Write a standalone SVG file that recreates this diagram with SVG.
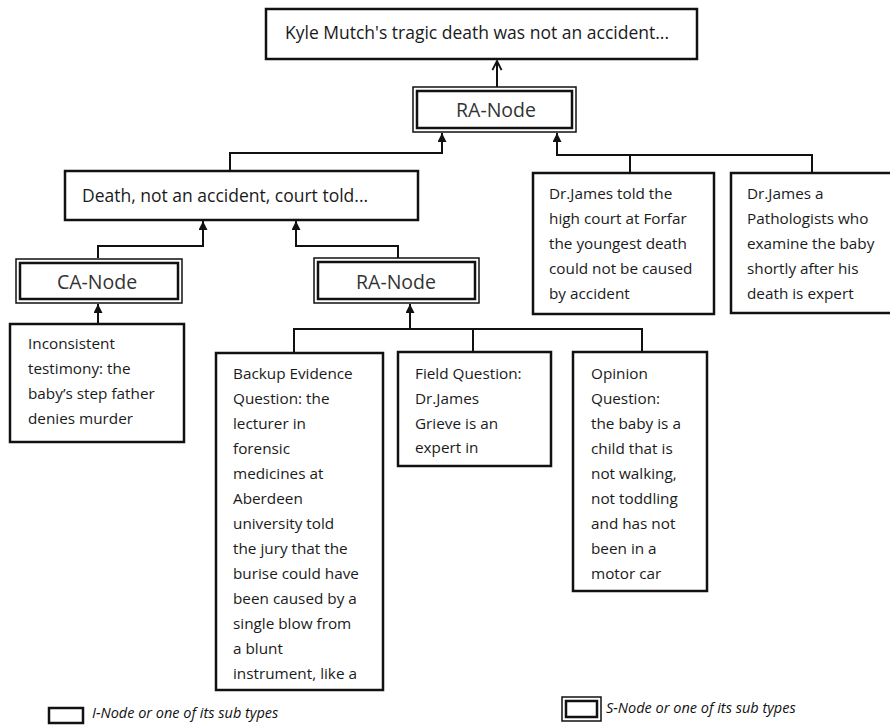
<svg xmlns="http://www.w3.org/2000/svg" width="890" height="726" viewBox="0 0 890 726">
<style>
.b{fill:#fff;stroke:#111;stroke-width:2.5}
.o{fill:#fff;stroke:#111;stroke-width:1.5}
.i{fill:none;stroke:#111;stroke-width:2.5}
.c{fill:none;stroke:#111;stroke-width:2}
text{font-family:"Open Sans","Liberation Sans",sans-serif;fill:#1a1a1a}
.t{font-size:15.3px}
.h{font-size:17.5px}
.n{font-size:19.5px;fill:#333;text-anchor:middle}
.l{font-size:14.5px;font-style:italic;fill:#111}
</style>
<defs>
<marker id="ar" viewBox="0 0 10 10" refX="10" refY="5" markerWidth="10" markerHeight="9" markerUnits="userSpaceOnUse" orient="auto"><path d="M0,0 L10,5 L0,10 z" fill="#111"/></marker>
<marker id="op" viewBox="0 0 12 12" refX="11" refY="6" markerWidth="11" markerHeight="12" markerUnits="userSpaceOnUse" orient="auto"><path d="M1,1 L11,6 L1,11" fill="none" stroke="#111" stroke-width="2"/></marker>
</defs>
<g id="connectors">
<path class="c" d="M497,87 V61" marker-end="url(#op)"/>
<path class="c" d="M230,171 V153 H442 V133" marker-end="url(#ar)"/>
<path class="c" d="M630,173 V155 H557 V133" marker-end="url(#ar)"/>
<path class="c" d="M812,173 V155 H630"/>
<path class="c" d="M98,258 V246 H203 V221" marker-end="url(#ar)"/>
<path class="c" d="M398,258 V246 H296 V221" marker-end="url(#ar)"/>
<path class="c" d="M98,324 V304" marker-end="url(#ar)"/>
<path class="c" d="M294,353 V329 H642 V352"/>
<path class="c" d="M473,329 V352"/>
<path class="c" d="M410,329 V304" marker-end="url(#ar)"/>
</g>
<g id="title">
<rect class="b" x="266" y="9" width="431" height="50"/>
<text class="h" x="285" y="39">Kyle Mutch's tragic death was not an accident...</text>
</g>
<g id="ra-top">
<rect class="o" x="413" y="87" width="163" height="45"/>
<rect class="i" x="417" y="91" width="155" height="37"/>
<text class="n" x="496" y="117">RA-Node</text>
</g>
<g id="death">
<rect class="b" x="65" y="171" width="353" height="49"/>
<text class="h" x="82" y="202">Death, not an accident, court told...</text>
</g>
<g id="drjames1">
<rect class="b" x="533" y="173" width="181" height="141"/>
<text class="t"><tspan x="549" y="199">Dr.James told the</tspan><tspan x="549" y="224">high court  at Forfar</tspan><tspan x="549" y="249">the youngest  death</tspan><tspan x="549" y="274">could not  be caused</tspan><tspan x="549" y="299">by accident</tspan></text>
</g>
<g id="drjames2">
<rect class="b" x="731" y="173" width="161" height="140"/>
<text class="t"><tspan x="747" y="199">Dr.James a</tspan><tspan x="747" y="224">Pathologists who</tspan><tspan x="747" y="249">examine the baby</tspan><tspan x="747" y="274">shortly after his</tspan><tspan x="747" y="299">death is expert</tspan></text>
</g>
<g id="ca-node">
<rect class="o" x="16" y="259" width="166" height="44"/>
<rect class="i" x="20" y="263" width="158" height="36"/>
<text class="n" x="97" y="289">CA-Node</text>
</g>
<g id="ra-mid">
<rect class="o" x="314" y="258" width="165" height="45"/>
<rect class="i" x="318" y="262" width="157" height="37"/>
<text class="n" x="396" y="289">RA-Node</text>
</g>
<g id="inconsistent">
<rect class="b" x="10" y="324" width="174" height="118"/>
<text class="t"><tspan x="28" y="349">Inconsistent</tspan><tspan x="28" y="374">testimony: the</tspan><tspan x="28" y="399">baby’s step father</tspan><tspan x="28" y="424">denies murder</tspan></text>
</g>
<g id="backup">
<rect class="b" x="216" y="353" width="167" height="337"/>
<text class="t"><tspan x="233" y="379">Backup Evidence</tspan><tspan x="233" y="404">Question:  the</tspan><tspan x="233" y="429">lecturer in</tspan><tspan x="233" y="454">forensic</tspan><tspan x="233" y="479">medicines at</tspan><tspan x="233" y="504">Aberdeen</tspan><tspan x="233" y="529">university told</tspan><tspan x="233" y="554">the jury  that the</tspan><tspan x="233" y="579">burise could  have</tspan><tspan x="233" y="604">been caused by a</tspan><tspan x="233" y="629">single blow from</tspan><tspan x="233" y="654">a blunt</tspan><tspan x="233" y="679">instrument, like a</tspan></text>
</g>
<g id="field">
<rect class="b" x="398" y="352" width="153" height="114"/>
<text class="t"><tspan x="415" y="379">Field Question:</tspan><tspan x="415" y="404">Dr.James</tspan><tspan x="415" y="429">Grieve is an</tspan><tspan x="415" y="453">expert in</tspan></text>
</g>
<g id="opinion">
<rect class="b" x="573" y="352" width="134" height="239"/>
<text class="t"><tspan x="591" y="379">Opinion</tspan><tspan x="591" y="404">Question:</tspan><tspan x="591" y="429">the baby  is a</tspan><tspan x="591" y="454">child that is</tspan><tspan x="591" y="479">not walking,</tspan><tspan x="591" y="504">not toddling</tspan><tspan x="591" y="529">and has not</tspan><tspan x="591" y="554">been in a</tspan><tspan x="591" y="579">motor car</tspan></text>
</g>
<g id="legend-i">
<rect class="b" x="49" y="708" width="34" height="15"/>
<text class="l" x="92" y="718">I-Node or one of its sub types</text>
</g>
<g id="legend-s">
<rect class="o" x="562" y="697" width="39" height="24"/>
<rect class="i" x="566" y="701" width="31" height="16"/>
<text class="l" x="606" y="713">S-Node or one of its sub types</text>
</g>
</svg>
